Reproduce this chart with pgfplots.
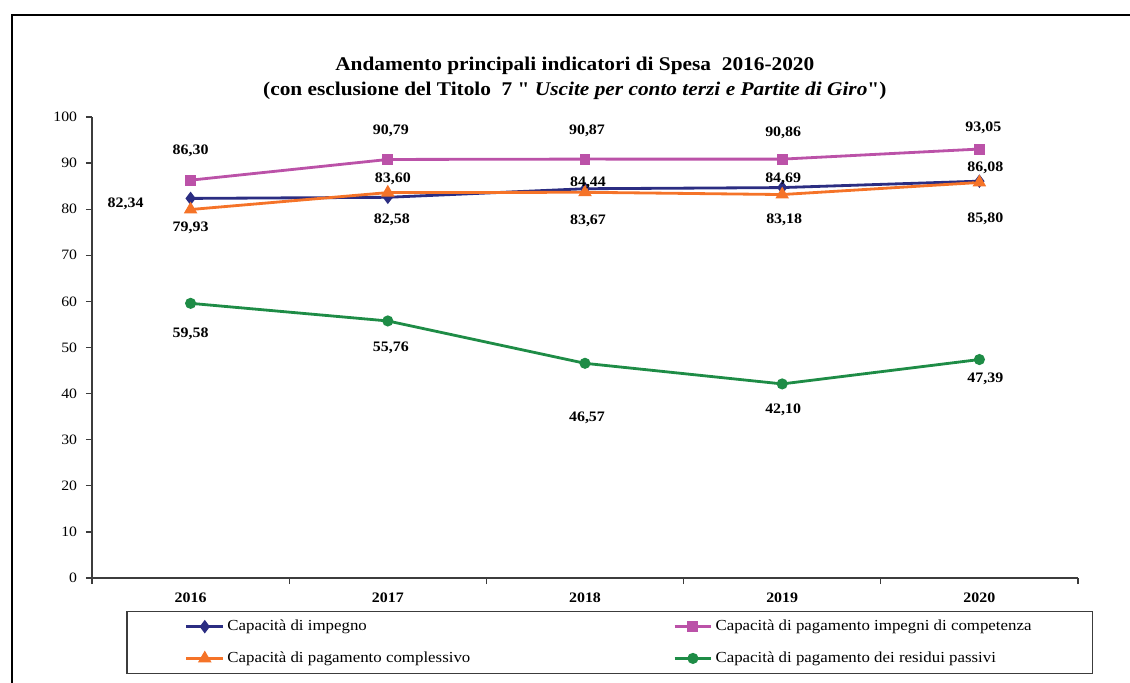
\documentclass[border=0pt]{standalone}
\usepackage{pgfplots}
\pgfplotsset{compat=1.18}
\usepackage{pgfplotstable}
\usepackage{fontspec}
\setmainfont{Liberation Serif}[FakeStretch=1.1]
\newfontfamily\qfont{Liberation Serif}[FakeStretch=1.1, Ligatures=ResetAll]

\definecolor{cimp}{RGB}{43,45,130}
\definecolor{ccomp}{RGB}{187,82,168}
\definecolor{ctot}{RGB}{245,115,40}
\definecolor{cres}{RGB}{30,140,70}
\definecolor{axgray}{RGB}{60,60,60}

% x = year index, dx/dy = label offset in px
\pgfplotstableread{
x y dx dy
0 82.34 -65 -5
1 82.58 4 -23
2 84.44 3 6
3 84.69 1 9
4 86.08 6 13
}\impegno
\pgfplotstableread{
x y dx dy
0 86.30 0 29
1 90.79 3 29
2 90.87 2 28
3 90.86 1 26
4 93.05 4 21
}\competenza
\pgfplotstableread{
x y dx dy
0 79.93 0 -18
1 83.60 5 14
2 83.67 3 -29
3 83.18 2 -25
4 85.80 6 -36
}\complessivo
\pgfplotstableread{
x y dx dy
0 59.58 0 -30
1 55.76 3 -27
2 46.57 2 -55
3 42.10 1 -26
4 47.39 6 -19
}\residui

\pgfplotsset{
  lbl/.style={
    forget plot, draw=none, mark=none,
    nodes near coords={\pgfmathprintnumber[fixed,fixed zerofill,precision=2,use comma]{\pgfplotspointmeta}},
    point meta=y,
    visualization depends on={\thisrow{dx}\as\ldx},
    visualization depends on={\thisrow{dy}\as\ldy},
    every node near coord/.append style={anchor=center, text=black,
      xshift={\ldx*0.025cm}, yshift={\ldy*0.025cm},
      font=\bfseries\fontsize{10.3}{12}\selectfont},
  },
}

\begin{document}
\begin{tikzpicture}
% origin = lower left corner of the axis box (px 92,578); 1px = 0.025cm
\begin{axis}[
    scale only axis, width=24.65cm, height=11.525cm,
    xmin=-0.5, xmax=4.5, ymin=0, ymax=100,
    axis lines*=left,
    axis line style={axgray, line width=0.9pt},
    every tick/.style={axgray, line width=0.9pt},
    tick align=outside,
    major tick length=0pt, minor tick length=0.15cm,
    xtick={0,1,2,3,4},
    xticklabels={2016,2017,2018,2019,2020},
    minor xtick={-0.5,0.5,1.5,2.5,3.5,4.5},
    ytick={0,10,...,100},
    minor ytick={0,10,...,100},
    /pgf/number format/assume math mode=true,
    yticklabel style={font=\fontsize{10.2}{12}\selectfont, xshift=-0.25cm},
    xticklabel style={font=\bfseries\fontsize{10.3}{12}\selectfont, yshift=-0.25cm},
    clip=false,
    legend columns=2,
    legend cell align=left,
    legend style={at={(0.525,-0.14)}, anchor=center, draw=axgray, line width=0.9pt,
      inner xsep=1.45cm, inner ysep=4pt, row sep=9.5pt,
      font=\fontsize{10.9}{13}\selectfont,
      /tikz/every even column/.append style={column sep=5.0cm}},
    legend image code/.code={\draw[line width=2pt, mark repeat=2,mark phase=2]
      plot coordinates {(0cm,0cm) (0.46cm,0cm) (0.92cm,0cm)};},
  ]
  \addplot[cimp, line width=2pt, mark=diamond*, mark size=3.2pt,
    mark options={solid, fill=cimp}] table[x=x,y=y] {\impegno};
  \addlegendentry{Capacità di impegno}
  \addplot[ccomp, line width=2pt, mark=square*, mark size=2.9pt,
    mark options={solid, fill=ccomp}] table[x=x,y=y] {\competenza};
  \addlegendentry{Capacità di pagamento impegni di competenza}
  \addplot[ctot, line width=2pt, mark=triangle*, mark size=3.6pt,
    mark options={solid, fill=ctot}] table[x=x,y=y] {\complessivo};
  \addlegendentry{Capacità di pagamento complessivo}
  \addplot[cres, line width=2pt, mark=*, mark size=2.9pt,
    mark options={solid, fill=cres}] table[x=x,y=y] {\residui};
  \addlegendentry{Capacità di pagamento dei residui passivi}
  \addplot[lbl] table[x=x,y=y] {\impegno};
  \addplot[lbl] table[x=x,y=y] {\competenza};
  \addplot[lbl] table[x=x,y=y] {\complessivo};
  \addplot[lbl] table[x=x,y=y] {\residui};
\end{axis}
\draw[line width=1.1pt] (-2.0,14.075) rectangle (26.3,-3.0);
\node[align=center, font=\bfseries\fontsize{13.8}{17.8}\selectfont] at (12.07,12.5)
  {Andamento principali indicatori di Spesa\ \ 2016-2020\\
   (con esclusione del Titolo\ \ 7 {\qfont"}\ \textit{Uscite per conto terzi e Partite di Giro}{\qfont"})};
\pgfresetboundingbox
\useasboundingbox (-2.3,14.45) rectangle (25.95,-2.6);
\end{tikzpicture}
\end{document}
